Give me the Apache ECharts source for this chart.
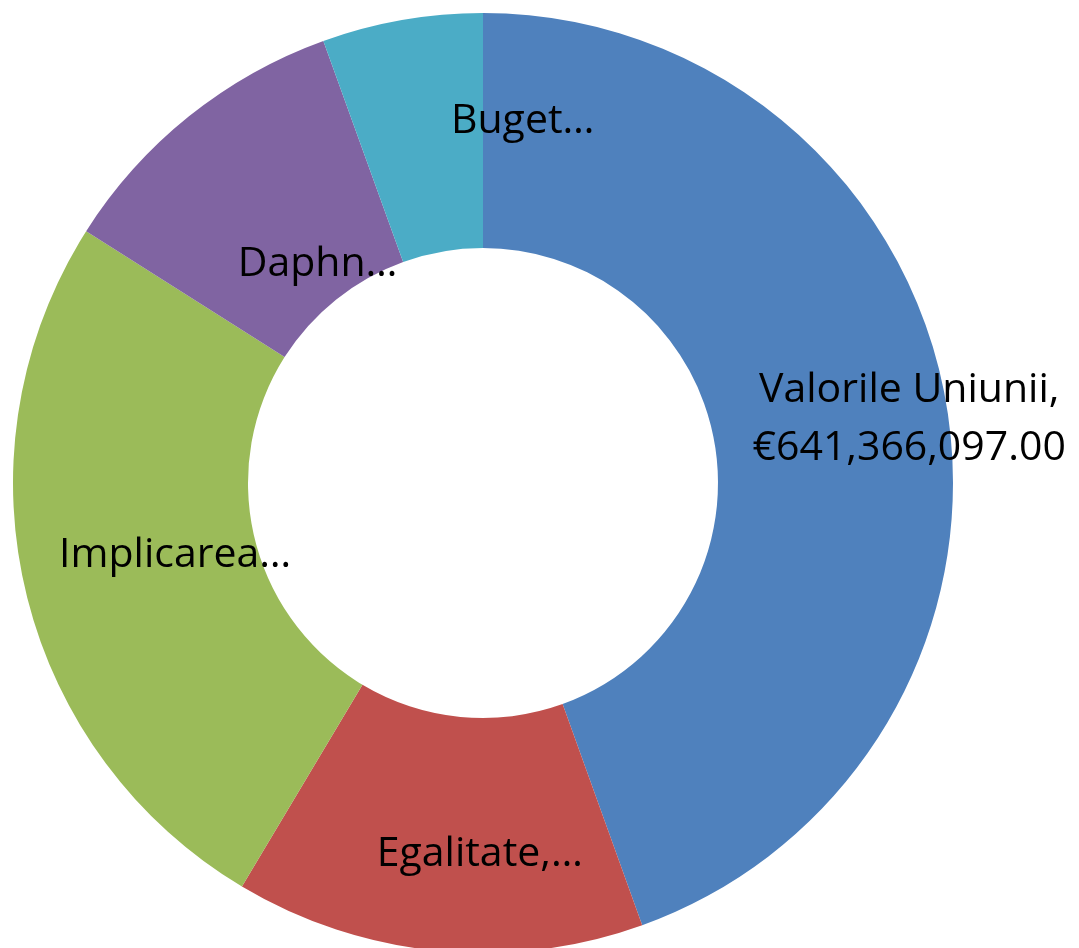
<!DOCTYPE html>
<html>
<head>
<meta charset="utf-8">
<script src="https://cdn.jsdelivr.net/npm/echarts@6/dist/echarts.min.js"></script>
<style>
html,body{margin:0;padding:0;background:#fff;}
#chart{width:1079px;height:948px;}
</style>
</head>
<body>
<div id="chart"></div>
<script>
// Data
var categories = ['Valorile Uniunii', 'Egalitate,…', 'Implicarea…', 'Daphn…', 'Buget…'];
var values = [641366097, 202800000, 366500000, 151100000, 79500000];
var colors = ['#4F81BD', '#C0504D', '#9BBB59', '#8064A2', '#4BACC6'];
var showValue = [true, false, false, false, false];
var labelOffsets = [[76, -3], [31, 17], [38, -10], [57, 59], [101, -11]];

function fmtEuro(v) {
  return '€' + v.toLocaleString('en-US', {minimumFractionDigits: 2, maximumFractionDigits: 2});
}

var data = categories.map(function (c, i) {
  return {
    name: c,
    value: values[i],
    itemStyle: {color: colors[i]},
    label: {offset: labelOffsets[i]}
  };
});

var chart = echarts.init(document.getElementById('chart'), null, {renderer: 'canvas'});
chart.setOption({
  animation: false,
  series: [{
    type: 'pie',
    center: [483, 483],
    radius: [235, 470],
    startAngle: 90,
    clockwise: true,
    avoidLabelOverlap: false,
    itemStyle: {borderWidth: 0},
    label: {
      show: true,
      position: 'inside',
      color: '#000',
      fontFamily: 'Open Sans',
      fontSize: 41,
      lineHeight: 58,
      align: 'center',
      formatter: function (p) {
        return showValue[p.dataIndex] ? p.name + ',\n' + fmtEuro(p.value) : p.name;
      }
    },
    labelLine: {show: false},
    emphasis: {disabled: true},
    data: data
  }]
});
</script>
</body>
</html>
